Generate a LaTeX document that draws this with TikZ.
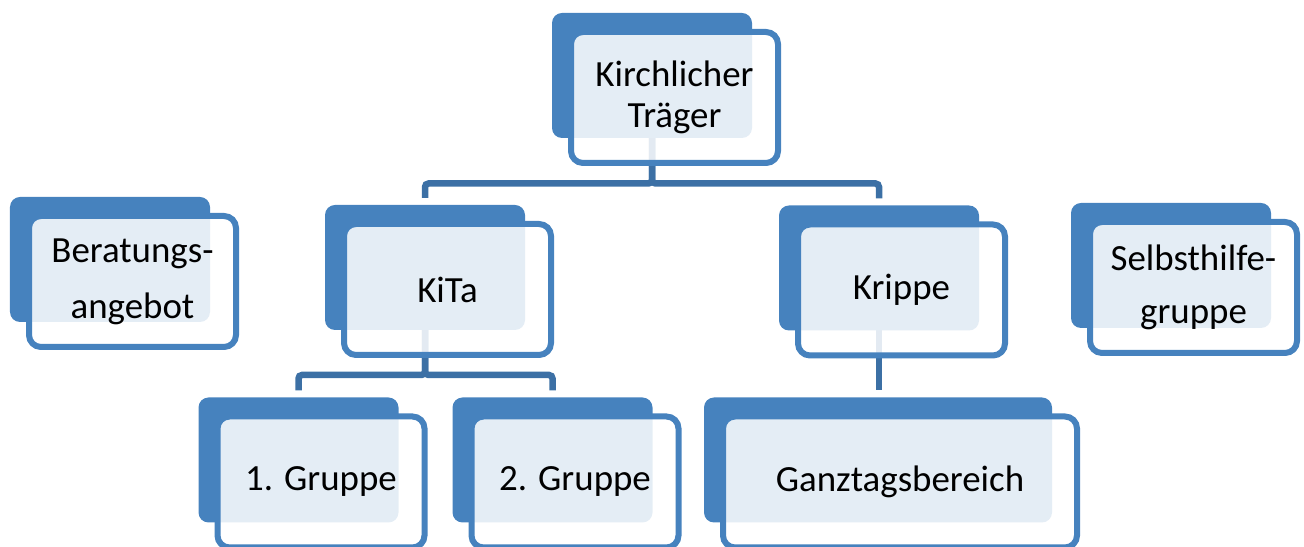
\documentclass[tikz,border=0pt]{standalone}
\usepackage{fontspec}
\setmainfont{Carlito}
\usetikzlibrary{positioning,backgrounds}
\definecolor{orgblue}{RGB}{70,130,190}
\definecolor{orglink}{RGB}{60,112,165}

\begin{document}
\begin{tikzpicture}[
    back/.style={rectangle, fill=orgblue, rounded corners=0.2cm,
        minimum width=4cm, minimum height=2.5cm, inner sep=0pt, outer sep=0pt},
    front/.style={rectangle, draw=orgblue, line width=0.12cm, fill=white,
        fill opacity=0.86, text opacity=1, rounded corners=0.24cm,
        minimum width=4.14cm, minimum height=2.62cm, inner sep=0pt, outer sep=0pt,
        align=center, font=\fontsize{21}{24}\selectfont},
    link/.style={orglink, line width=0.13cm, rounded corners=2pt, shorten >=1.4mm}
]
    \useasboundingbox (0,0) rectangle (26.08,10.94);

    % top level
    \node[back] (kircheb) at (13.04,9.43) {};
    \node[front, font=\fontsize{21}{23.3}\selectfont,
        below right=0.38cm and 0.38cm of kircheb.north west] (kirche) {Kirchlicher\\Träger};

    % middle row
    \node[back] (beratungb) at (2.20,5.75) {};
    \node[front, font=\fontsize{21}{31.8}\selectfont,
        below right=0.38cm and 0.38cm of beratungb.north west] (beratung) {Beratungs-\\angebot};
    \node[back] (kitab) at (8.50,5.59) {};
    \node[front, below right=0.38cm and 0.38cm of kitab.north west] (kita) {KiTa};
    \node[back] (krippeb) at (17.58,5.58) {};
    \node[front, below right=0.38cm and 0.38cm of krippeb.north west] (krippe) {Krippe};
    \node[back] (selbstb) at (23.42,5.63) {};
    \node[front, font=\fontsize{21}{30}\selectfont,
        below right=0.38cm and 0.38cm of selbstb.north west] (selbst) {Selbsthilfe-\\gruppe};

    % bottom row
    \node[back] (gruppe1b) at (5.97,1.74) {};
    \node[front, below right=0.38cm and 0.38cm of gruppe1b.north west] (gruppe1) {1. Gruppe};
    \node[back] (gruppe2b) at (11.05,1.74) {};
    \node[front, below right=0.38cm and 0.38cm of gruppe2b.north west] (gruppe2) {2. Gruppe};
    \node[back, minimum width=6.96cm] (ganztagb) at (17.56,1.74) {};
    \node[front, minimum width=7.08cm,
        below right=0.38cm and 0.38cm of ganztagb.north west] (ganztag) {Ganztagsbereich};

    \begin{scope}[on background layer]
        \draw[link] (kircheb.south) -- ++(0,-0.91) -| (kitab.north);
        \draw[link] (kircheb.south) -- ++(0,-0.91) -| (krippeb.north);
        \draw[link] (kitab.south) -- ++(0,-0.9) -| (gruppe1b.north);
        \draw[link] (kitab.south) -- ++(0,-0.9) -| (gruppe2b.north);
        \draw[link] (krippeb.south) -- (krippeb.south |- ganztagb.north);
    \end{scope}
\end{tikzpicture}
\end{document}
